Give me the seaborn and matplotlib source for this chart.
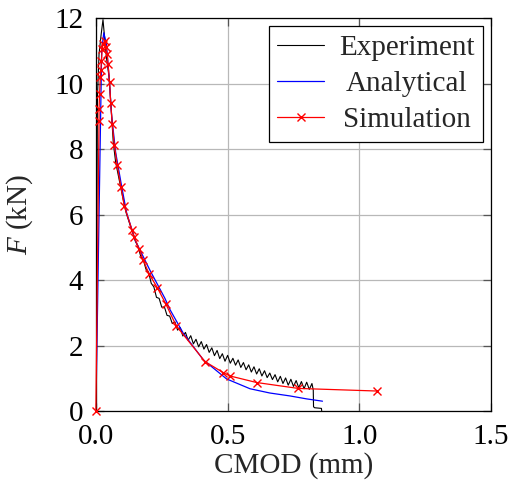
import numpy as np
import pandas as pd
import seaborn as sns
import matplotlib.pyplot as plt

# Experiment (CMOD mm, F kN)
exp_cmod = [0.0, 0.003, 0.006, 0.012, 0.020, 0.027, 0.032, 0.040, 0.050, 0.056, 0.066,
            0.075, 0.085, 0.095, 0.104, 0.115, 0.125, 0.133,
            0.14, 0.15, 0.16, 0.17, 0.18, 0.19, 0.20, 0.21, 0.22, 0.23, 0.24, 0.25,
            0.26, 0.27, 0.28, 0.29, 0.30, 0.31, 0.32, 0.33, 0.34, 0.35, 0.36, 0.37,
            0.38, 0.39, 0.40, 0.41, 0.42, 0.43, 0.44, 0.45, 0.46, 0.47, 0.48, 0.49,
            0.50, 0.51, 0.52, 0.53, 0.54, 0.55, 0.56, 0.57, 0.58, 0.59, 0.60, 0.61,
            0.62, 0.63, 0.64, 0.65, 0.66, 0.67, 0.68, 0.69, 0.70, 0.71, 0.72, 0.73,
            0.74, 0.75, 0.76, 0.77, 0.78, 0.79, 0.80, 0.81, 0.82, 0.825,
            0.826, 0.830, 0.856, 0.857]
exp_force = [0.0, 5.0, 9.6, 10.9, 11.5, 11.95, 11.5, 10.8, 10.2, 9.5, 8.2,
             7.6, 7.2, 6.8, 6.45, 6.05, 5.8, 5.6,
             5.45, 5.18, 5.02, 4.73, 4.62, 4.33, 4.24, 3.90, 3.79, 3.47, 3.44, 3.17,
             3.18, 2.92, 2.90, 2.67, 2.72, 2.47, 2.55, 2.29, 2.40, 2.16, 2.30, 2.05,
             2.19, 1.96, 2.12, 1.89, 2.03, 1.79, 1.93, 1.69, 1.85, 1.60, 1.75, 1.52,
             1.70, 1.46, 1.61, 1.40, 1.56, 1.33, 1.48, 1.26, 1.41, 1.19, 1.35, 1.13,
             1.29, 1.07, 1.23, 1.02, 1.16, 0.96, 1.11, 0.89, 1.06, 0.84, 1.01, 0.79,
             0.97, 0.75, 0.93, 0.71, 0.90, 0.68, 0.88, 0.66, 0.84, 0.64,
             0.13, 0.10, 0.08, 0.0]

# Analytical
ana_cmod = [0.0, 0.022, 0.030, 0.040, 0.050, 0.060, 0.075, 0.098, 0.117, 0.150,
            0.205, 0.262, 0.281, 0.332, 0.408, 0.496, 0.585, 0.660, 0.737, 0.800, 0.860]
ana_force = [0.0, 11.0, 11.55, 11.2, 10.2, 9.0, 7.9, 6.85, 6.04, 5.2,
             4.3, 3.44, 3.1, 2.37, 1.56, 0.98, 0.68, 0.55, 0.46, 0.37, 0.30]

# Simulation
sim_cmod = [0.0, 0.012, 0.012, 0.014, 0.017, 0.019, 0.021, 0.024, 0.027, 0.033,
            0.038, 0.043, 0.046, 0.052, 0.056, 0.062, 0.070, 0.081, 0.095, 0.108,
            0.137, 0.146, 0.164, 0.180, 0.202, 0.233, 0.266, 0.305, 0.414, 0.484,
            0.509, 0.610, 0.768, 1.068]
sim_force = [0.0, 8.85, 9.22, 9.67, 10.2, 10.4, 10.7, 11.05, 11.2, 11.3,
             11.1, 10.9, 10.6, 10.05, 9.42, 8.77, 8.12, 7.5, 6.84, 6.25,
             5.53, 5.3, 4.95, 4.6, 4.18, 3.77, 3.26, 2.6, 1.51, 1.17,
             1.07, 0.87, 0.69, 0.61]

x_ticks = [0.0, 0.5, 1.0, 1.5]
y_ticks = [0, 2, 4, 6, 8, 10, 12]

sns.set_theme(style="whitegrid")
plt.rcParams['font.family'] = ['Liberation Serif', 'DejaVu Serif']
plt.rcParams['mathtext.fontset'] = 'custom'
plt.rcParams['mathtext.rm'] = 'Liberation Serif'
plt.rcParams['mathtext.it'] = 'Liberation Serif:italic'

fig = plt.figure(figsize=(5.1, 4.92), dpi=100)
ax = fig.add_axes([0.188, 0.1646, 0.775, 0.7988])

sns.lineplot(x=exp_cmod, y=exp_force, ax=ax, color='black', linewidth=0.8,
             sort=False, estimator=None, label='Experiment')
sns.lineplot(x=ana_cmod, y=ana_force, ax=ax, color='blue', linewidth=0.9,
             sort=False, estimator=None, label='Analytical')
sns.lineplot(x=sim_cmod, y=sim_force, ax=ax, color='red', linewidth=0.9,
             marker='x', markersize=5.5, markeredgewidth=1.0, markeredgecolor='red',
             sort=False, estimator=None, label='Simulation', clip_on=False, zorder=5)

ax.set_xlim(0, 1.5)
ax.set_ylim(0, 12)
ax.set_xticks(x_ticks)
ax.set_xticklabels([f"{v:.1f}" for v in x_ticks])
ax.set_yticks(y_ticks)
ax.set_yticklabels([str(v) for v in y_ticks])

ax.grid(True, color='#b8b8b8', linewidth=0.9)
for s in ax.spines.values():
    s.set_color('black')
    s.set_linewidth(0.9)
ax.tick_params(direction='in', length=6, width=0.9, color='#555555',
               top=True, right=True, bottom=True, left=True,
               labelsize=21, pad=9, labelcolor='black')

ax.set_xlabel('CMOD (mm)', fontsize=21, labelpad=2)
ax.set_ylabel('$F$ (kN)', fontsize=21, labelpad=14)

leg = ax.legend(loc='upper right', fontsize=21, frameon=True, fancybox=False,
                edgecolor='black', framealpha=1, handlelength=1.6,
                borderaxespad=0.28, labelspacing=0.32, handletextpad=0.5,
                borderpad=0.3)
leg.get_frame().set_linewidth(0.9)
leg.set_zorder(10)

# center legend texts like the original (shift shorter labels right)
fig.canvas.draw()
renderer = fig.canvas.get_renderer()
widths = [t.get_window_extent(renderer).width for t in leg.get_texts()]
w = max(widths)
for t, wi in zip(leg.get_texts(), widths):
    t.set_position(((w - wi) / 2, 0))

fig.savefig('out.png', dpi=100)
